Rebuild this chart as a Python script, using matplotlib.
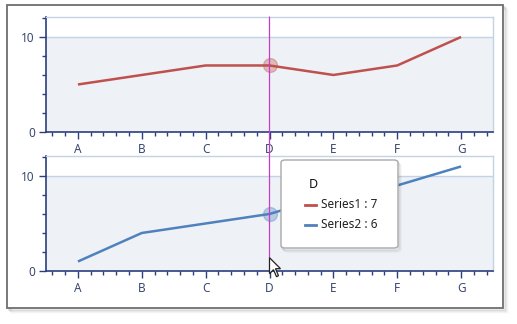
import numpy as np
import matplotlib
matplotlib.use("Agg")
import matplotlib.pyplot as plt
from matplotlib.patches import Rectangle, FancyBboxPatch, Polygon, ConnectionPatch
from matplotlib.lines import Line2D
from matplotlib.ticker import MultipleLocator, FixedLocator

plt.rcParams['font.family'] = ['Noto Sans', 'DejaVu Sans']

# data
categories = ['A', 'B', 'C', 'D', 'E', 'F', 'G']
series1 = [5, 6, 7, 7, 6, 7, 10]
series2 = [1, 4, 5, 6, 8, 9, 11]
hover_idx = 3

RED = '#C0504D'
BLUE = '#4F81BD'
AXIS = '#2B3E7E'
LABEL = '#3A4770'
GRID = '#C3D2E4'
BAND = '#EEF2F6'

W, H = 517, 324
fig = plt.figure(figsize=(W / 100, H / 100), dpi=100)


def fx(px):
    return px / W


def fy(py):
    return 1 - py / H


# window frame with a soft shadow
for i, a in enumerate([0.10, 0.07, 0.04, 0.02]):
    fig.patches.append(Rectangle((fx(7 + 2 + i), fy(308 + 2 + i)), fx(496), 303 / H,
                                 transform=fig.transFigure, facecolor='none',
                                 edgecolor='black', alpha=a, lw=1.2, zorder=0))
fig.patches.append(Rectangle((fx(7), fy(308)), fx(496), 303 / H,
                             transform=fig.transFigure, facecolor='white',
                             edgecolor='#6E6E6E', lw=1.3, zorder=1))


def make_axes(top, values, color):
    ax = fig.add_axes([fx(46), fy(top + 115), fx(447), 115 / H], zorder=2)
    x = np.arange(len(categories))
    ax.set_xlim(-0.5, len(categories) - 0.5)
    ax.set_ylim(0, 12.1)
    ax.axhspan(0, 10, color=BAND, lw=0, zorder=0)
    ax.axhline(10, color=GRID, lw=1, zorder=1)
    ax.plot(x, values, color=color, lw=1.8, zorder=3, solid_capstyle='butt')
    ax.plot(x[hover_idx], values[hover_idx], 'o', ms=10, mfc=color, mec=color,
            alpha=0.35, zorder=4)

    ax.xaxis.set_major_locator(FixedLocator(x))
    ax.xaxis.set_minor_locator(MultipleLocator(0.2))
    ax.set_xticklabels(categories)
    ax.yaxis.set_major_locator(FixedLocator([0, 10]))
    ax.yaxis.set_minor_locator(MultipleLocator(2))
    ax.tick_params(which='major', direction='out', length=5, width=1, color=AXIS,
                   labelcolor=LABEL, labelsize=8.5, pad=3)
    ax.tick_params(which='minor', direction='out', length=3, width=1, color=AXIS)
    for s in ['left', 'bottom']:
        ax.spines[s].set_color(AXIS)
        ax.spines[s].set_linewidth(1.2)
    for s in ['top', 'right']:
        ax.spines[s].set_color(GRID)
        ax.spines[s].set_linewidth(1)
    return ax


ax1 = make_axes(17, series1, RED)
ax2 = make_axes(156, series2, BLUE)

# crosshair from the top chart down to the mouse pointer
cursor_y = 1.4
con = ConnectionPatch(xyA=(hover_idx, 12.1), coordsA=ax1.transData,
                      xyB=(hover_idx, cursor_y), coordsB=ax2.transData,
                      color='#C63CC6', lw=0.9, zorder=5)
fig.add_artist(con)

# mouse pointer
cx, cy = ax2.transData.transform((hover_idx, cursor_y))
arrow = np.array([[0, 0], [0, -16], [4, -12], [7, -19], [9, -18], [6, -11], [11, -11]])
fig.add_artist(Polygon((arrow + [cx, cy]) / [W, H], closed=True, transform=fig.transFigure,
                       facecolor='white', edgecolor='#222222', lw=0.9, zorder=7))

# tooltip
for i, a in enumerate([0.08, 0.05, 0.03]):
    fig.add_artist(FancyBboxPatch((fx(281 + 1 + i), fy(248 + 2 + i)), fx(117), 88 / H,
                                  boxstyle='round,pad=0,rounding_size=0.008',
                                  transform=fig.transFigure, facecolor='none',
                                  edgecolor='black', alpha=a, lw=1.2, zorder=6))
fig.add_artist(FancyBboxPatch((fx(281), fy(248)), fx(117), 88 / H,
                              boxstyle='round,pad=0,rounding_size=0.008',
                              transform=fig.transFigure, facecolor='white',
                              edgecolor='#A8A8A8', lw=1, zorder=6))
fig.text(fx(309), fy(185), categories[hover_idx], fontsize=9, color='#111111',
         va='center', zorder=7)
for i, (name, vals, col) in enumerate([('Series1', series1, RED), ('Series2', series2, BLUE)]):
    yy = fy(205 + i * 20)
    fig.add_artist(Line2D([fx(305), fx(316)], [yy, yy], color=col, lw=2,
                          transform=fig.transFigure, zorder=7))
    fig.text(fx(321), yy, '{} : {}'.format(name, vals[hover_idx]), fontsize=8.5,
             color='#222222', va='center', zorder=7)

fig.savefig('out.png', dpi=100)
